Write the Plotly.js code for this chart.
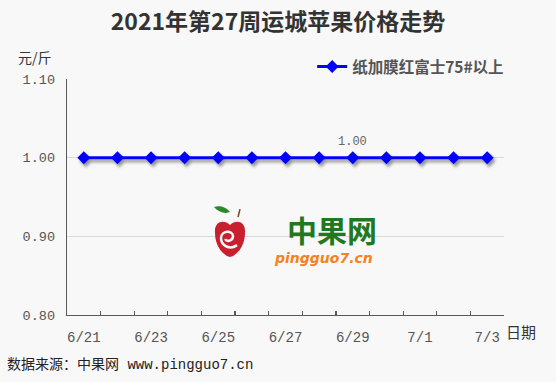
<!DOCTYPE html>
<html>
<head>
<meta charset="utf-8">
<script src="https://cdn.plot.ly/plotly-3.0.1.min.js"></script>
<style>
html,body{margin:0;padding:0;background:#f8f8f8;}
#chart{width:556px;height:382px;outline:2px solid #000;outline-offset:-2px;}
</style>
</head>
<body>
<div id="chart"></div>
<script>
// ---- data ----
const dates = ['6/21','6/22','6/23','6/24','6/25','6/26','6/27','6/28','6/29','6/30','7/1','7/2','7/3'];
const prices = [1.00,1.00,1.00,1.00,1.00,1.00,1.00,1.00,1.00,1.00,1.00,1.00,1.00];
const tickLabels = ['6/21','6/23','6/25','6/27','6/29','7/1','7/3'];
const labelledDate = '6/29';
const seriesName = '纸加膜红富士75#以上';
const yTicks = [0.80, 0.90, 1.00, 1.10];

const li = dates.indexOf(labelledDate);
const monoFont = 'Liberation Mono, DejaVu Sans Mono, Noto Sans CJK SC, monospace';
const cjkFont = 'Noto Sans CJK SC, sans-serif';

const trace = {
  x: dates, y: prices, type: 'scatter', mode: 'lines+markers', name: seriesName,
  line: {color: '#0000ff', width: 3},
  marker: {symbol: 'diamond', size: 10, color: '#0000ff'},
  cliponaxis: false
};

const layout = {
  width: 556, height: 382,
  margin: {l: 67, r: 52, t: 79, b: 67},
  paper_bgcolor: '#f8f8f8', plot_bgcolor: '#f8f8f8',
  title: {text: '<b>2021年第27周运城苹果价格走势</b>', x: 0.5, xanchor: 'center', y: 0.942, yanchor: 'middle',
          font: {family: cjkFont, size: 23, color: '#333333'}},
  showlegend: true,
  legend: {x: 0.561, y: 1.051, xanchor: 'left', yanchor: 'middle', bgcolor: 'rgba(0,0,0,0)',
           font: {family: cjkFont, size: 15.5, color: '#555555', weight: 'bold'}},
  xaxis: {
    type: 'category', range: [-0.5, dates.length - 0.5], tickson: 'boundaries',
    tickmode: 'array', tickvals: dates, ticktext: dates.map(d => tickLabels.includes(d) ? d : ''),
    tickangle: 0,
    ticks: 'inside', ticklen: 4, tickcolor: '#595959', tickwidth: 1.2,
    showline: true, linecolor: '#595959', linewidth: 1.3, showgrid: false, zeroline: false,
    tickfont: {family: monoFont, size: 14, color: '#555555'}, ticklabelstandoff: 9
  },
  yaxis: {
    range: [0.8, 1.1], tickmode: 'array', tickvals: yTicks, ticktext: yTicks.map(v => v.toFixed(2)),
    ticks: '', showline: true, linecolor: '#595959', linewidth: 1.3,
    showgrid: true, gridcolor: '#d9d9d9', gridwidth: 1, zeroline: false,
    tickfont: {family: monoFont, size: 13.5, color: '#555555'}, ticklabelstandoff: 8
  },
  annotations: [
    {x: dates[li], y: prices[li], xref: 'x', yref: 'y', text: prices[li].toFixed(2), showarrow: false,
     yshift: 16, font: {family: monoFont, size: 12, color: '#666666'}},
    {xref: 'paper', yref: 'paper', x: -0.073, y: 1.093, text: '元/斤', showarrow: false,
     xanchor: 'center', yanchor: 'middle', font: {family: cjkFont, size: 14, color: '#333333'}},
    {xref: 'paper', yref: 'paper', x: 1.039, y: -0.072, text: '日期', showarrow: false,
     xanchor: 'center', yanchor: 'middle', font: {family: cjkFont, size: 15, color: '#333333'}},
    {xref: 'paper', yref: 'paper', x: -0.142, y: -0.21, text: '数据来源：中果网 www.pingguo7.cn', showarrow: false,
     xanchor: 'left', yanchor: 'middle', font: {family: monoFont, size: 14, color: '#222222'}},
    {xref: 'paper', yref: 'paper', x: 0.606, y: 0.364, text: '<b>中果网</b>', showarrow: false,
     xanchor: 'center', yanchor: 'middle', font: {family: cjkFont, size: 30, color: '#1f7a1f'}},
    {xref: 'paper', yref: 'paper', x: 0.588, y: 0.2415, text: '<b><i>pingguo7.cn</i></b>', showarrow: false,
     xanchor: 'center', yanchor: 'middle', font: {family: 'DejaVu Sans, sans-serif', size: 14, color: '#f58220'}}
  ],
  shapes: [
    // apple logo (watermark)
    {type: 'path', xref: 'paper', yref: 'paper', xsizemode: 'pixel', ysizemode: 'pixel',
     xanchor: 0.373, yanchor: 0.33, layer: 'above',
     path: 'M 0,12 C -6,18 -16,16 -15,4 C -15,-8 -8,-18 0,-20 C 8,-18 15,-8 15,4 C 16,16 6,18 0,12 Z',
     fillcolor: '#c8202f', line: {width: 0}},
    {type: 'path', xref: 'paper', yref: 'paper', xsizemode: 'pixel', ysizemode: 'pixel',
     xanchor: 0.373, yanchor: 0.33, layer: 'above',
     path: 'M -9,-1 C -9,7 3,7 3,1 C 3,-4 -3,-5 -5,-2 M -9,-1 C -9,-9 0,-13 7,-8',
     fillcolor: 'rgba(0,0,0,0)', line: {width: 2.5, color: '#f8f8f8'}},
    {type: 'path', xref: 'paper', yref: 'paper', xsizemode: 'pixel', ysizemode: 'pixel',
     xanchor: 0.373, yanchor: 0.33, layer: 'above',
     path: 'M 8,20 L 10,28', fillcolor: 'rgba(0,0,0,0)', line: {width: 1.5, color: '#7a4a1a'}},
    {type: 'path', xref: 'paper', yref: 'paper', xsizemode: 'pixel', ysizemode: 'pixel',
     xanchor: 0.373, yanchor: 0.33, layer: 'above',
     path: 'M 0,25 C -4,31 -12,32 -16,30 C -12,25 -5,23 0,25 Z', fillcolor: '#2a8a2a', line: {width: 0}}
  ]
};

Plotly.newPlot('chart', [trace], layout, {displayModeBar: false, staticPlot: true}).then(() => {
  document.querySelectorAll('.scatterlayer .trace').forEach(g => {
    g.style.filter = 'drop-shadow(2px 3px 1.5px rgba(0,0,0,0.4))';
  });
});
</script>
</body>
</html>
